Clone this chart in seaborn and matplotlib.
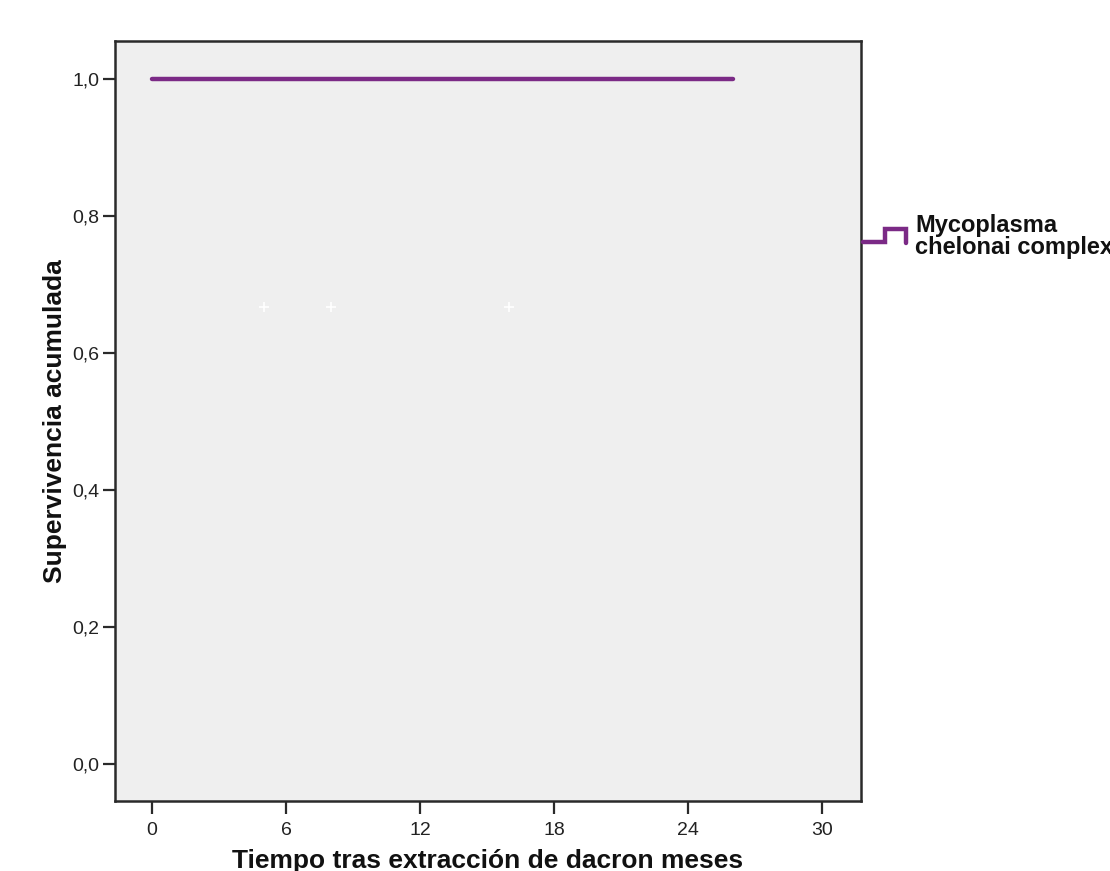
import matplotlib
matplotlib.use("Agg")
import matplotlib.pyplot as plt
from matplotlib.lines import Line2D
from matplotlib.ticker import FuncFormatter
import seaborn as sns
import pandas as pd

# Kaplan-Meier curve (no events: survival stays at 1)
time_months = [0, 26]
survival = [1.0, 1.0]

# censored observations shown as markers
censor_time = [5, 8, 16]
censor_surv = [0.667, 0.667, 0.667]

group_label = "Mycoplasma\nchelonai complex"
x_ticks = [0, 6, 12, 18, 24, 30]
y_ticks = [0.0, 0.2, 0.4, 0.6, 0.8, 1.0]

sns.set_style("white")
plt.rcParams["font.family"] = ["Liberation Sans Narrow", "Liberation Sans", "DejaVu Sans"]

purple = "#7b2a86"

fig = plt.figure(figsize=(11.10, 8.71), dpi=100)
ax = fig.add_axes([115 / 1110, 1 - 801 / 871, (861 - 115) / 1110, (801 - 41) / 871])
ax.set_facecolor("#efefef")

curve = pd.DataFrame({"t": time_months, "s": survival})
sns.lineplot(data=curve, x="t", y="s", ax=ax, color=purple, lw=3.2,
             drawstyle="steps-post", legend=False)

cens = pd.DataFrame({"t": censor_time, "s": censor_surv})
sns.scatterplot(data=cens, x="t", y="s", ax=ax, marker="+", color="white",
                s=60, linewidth=1.2, legend=False)

ax.set_xlim(-1.66, 31.75)
ax.set_ylim(-0.054, 1.0555)
ax.set_xticks(x_ticks)
ax.set_yticks(y_ticks)
ax.yaxis.set_major_formatter(FuncFormatter(lambda v, p: f"{v:.1f}".replace(".", ",")))
ax.tick_params(axis="both", direction="out", length=9, width=1.6, color="#2a2a2a",
               labelsize=14, labelcolor="#222222", bottom=True, left=True)
ax.tick_params(axis="x", pad=6)
ax.tick_params(axis="y", pad=2)

for sp in ax.spines.values():
    sp.set_visible(True)
    sp.set_color("#2a2a2a")
    sp.set_linewidth(1.8)

ax.set_xlabel("Tiempo tras extracción de dacron meses", fontsize=19, fontweight="bold",
              labelpad=7, color="#111111")
ax.set_ylabel("Supervivencia acumulada", fontsize=19, fontweight="bold", labelpad=4,
              color="#111111")

# legend entry placed to the right of the plot area
step_handle = Line2D([863, 885, 885, 906, 906], [871 - 242, 871 - 242, 871 - 229, 871 - 229, 871 - 243],
                     transform=None, color=purple, lw=3.2, solid_joinstyle="miter")
fig.add_artist(step_handle)
fig.text(915 / 1110, 1 - 214 / 871, group_label, fontsize=17, fontweight="bold",
         va="top", ha="left", linespacing=0.92, color="#111111")

fig.savefig("out.png", dpi=100)
